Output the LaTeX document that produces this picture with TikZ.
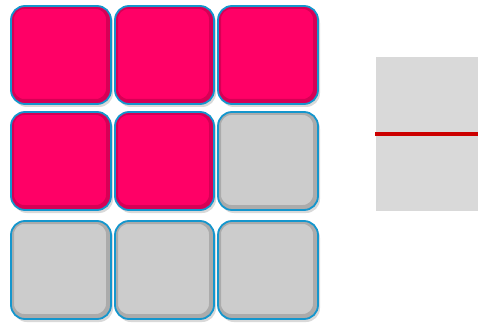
\documentclass[tikz,border=0pt]{standalone}
\usepackage{tikz}
\usepackage{xcolor}
\usetikzlibrary{shadows}
\definecolor{tilepink}{RGB}{255,0,102}
\definecolor{tilegray}{RGB}{204,204,204}
\definecolor{tileedge}{RGB}{20,150,205}
\definecolor{panelgray}{RGB}{217,217,217}
\definecolor{markred}{RGB}{204,0,0}

\tikzset{
  tile/.style={rounded corners=14, line width=1.8pt, draw=tileedge,
    drop shadow={opacity=0.3, shadow xshift=2pt, shadow yshift=-3pt},
    path picture={
      \draw[black, opacity=0.16, line width=8pt, rounded corners=14]
        ([xshift=-1pt,yshift=1pt]path picture bounding box.south west) rectangle
        ([xshift=-1pt,yshift=1pt]path picture bounding box.north east);
    }},
  pinktile/.style={tile, fill=tilepink},
  graytile/.style={tile, fill=tilegray}
}

\begin{document}
\begin{tikzpicture}[x=1pt, y=-1pt]
\useasboundingbox (0,0) rectangle (478,323);

% 1. TILE GRID
% Top row
\draw[pinktile] (11,6) rectangle (111,104);
\draw[pinktile] (115,6) rectangle (214,104);
\draw[pinktile] (218,6) rectangle (318,104);

% Middle row
\draw[pinktile] (11,112) rectangle (111,210);
\draw[pinktile] (115,112) rectangle (214,210);
\draw[graytile] (218,112) rectangle (318,210);

% Bottom row
\draw[graytile] (11,221) rectangle (111,319);
\draw[graytile] (115,221) rectangle (214,319);
\draw[graytile] (218,221) rectangle (318,319);

% 2. SIDE PANEL WITH MARK
\fill[panelgray] (376,57) rectangle (478,211);
\draw[markred, line width=4pt] (375,134) -- (478,134);

\end{tikzpicture}
\end{document}
